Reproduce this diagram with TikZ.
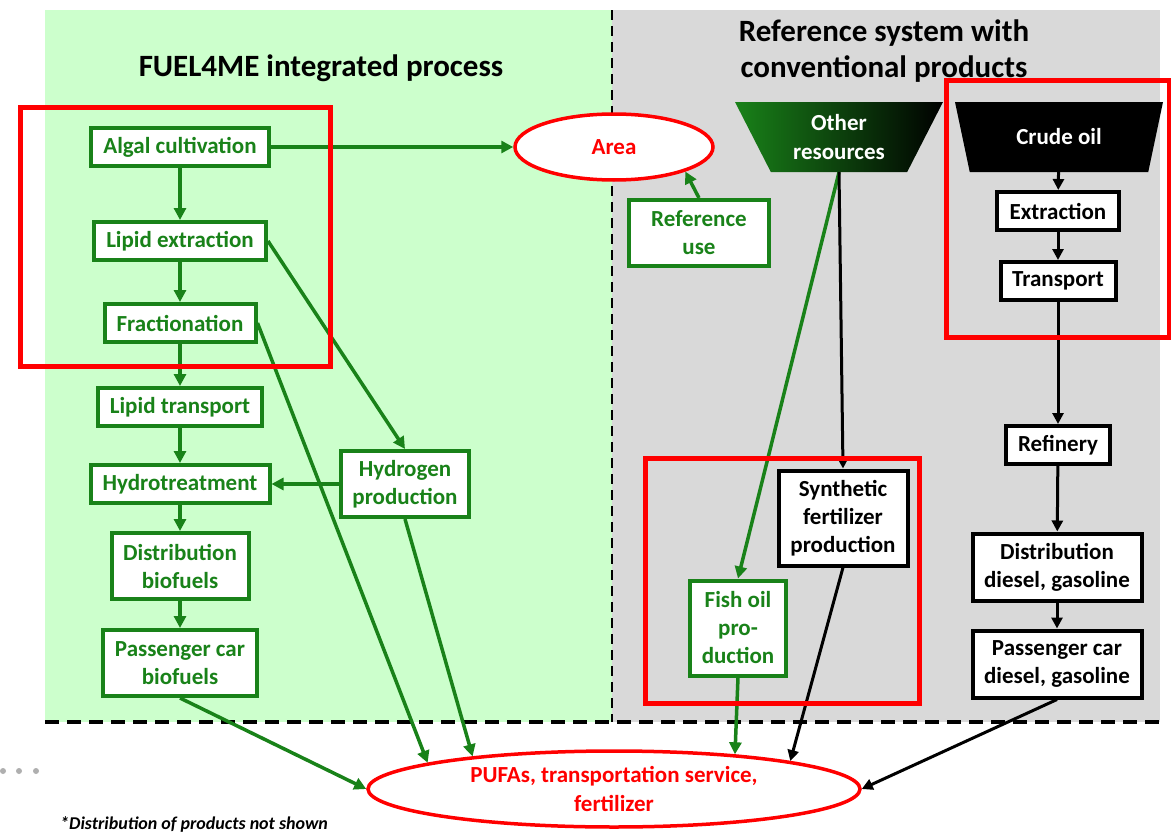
\documentclass[tikz,border=0pt]{standalone}
\usepackage{fontspec}
\setmainfont{Carlito}
\usetikzlibrary{shapes.geometric, arrows.meta, positioning, calc}
\definecolor{flowgreen}{RGB}{25,130,25}
\definecolor{panelgreen}{RGB}{204,255,204}
\definecolor{panelgrey}{RGB}{217,217,217}
\definecolor{markred}{RGB}{255,0,0}
\definecolor{dotgrey}{RGB}{175,175,175}
\tikzset{
  greenbox/.style = {rectangle, draw=flowgreen, line width=4pt, fill=white, text=flowgreen, align=center, inner xsep=5pt, inner ysep=4pt, minimum height=38pt, font=\fontsize{23}{28}\selectfont\bfseries},
  blackbox/.style = {rectangle, draw=black, line width=4pt, fill=white, text=black, align=center, inner xsep=5pt, inner ysep=4pt, minimum height=38pt, font=\fontsize{23}{28}\selectfont\bfseries},
  product/.style = {ellipse, draw=markred, line width=3.5pt, fill=white, text=markred, align=center, inner sep=2pt, font=\fontsize{23}{29}\selectfont\bfseries},
  source/.style = {trapezium, shape border rotate=180, trapezium angle=54, trapezium stretches body, minimum width=208pt, minimum height=70pt, text=white, align=center, inner sep=2pt, font=\fontsize{23}{29}\selectfont\bfseries},
  title/.style = {align=center, text=black, font=\fontsize{31}{36}\selectfont\bfseries},
  greenflow/.style = {-{Triangle[length=12pt, width=12pt]}, line width=3.5pt, draw=flowgreen},
  blackflow/.style = {-{Triangle[length=11pt, width=11pt]}, line width=3pt, draw=black},
  highlight/.style = {draw=markred, line width=5pt},
  border/.style = {draw=black, line width=3.5pt, dash pattern=on 14pt off 8pt}
}
\begin{document}
\begin{tikzpicture}[x=1pt, y=-1pt]
  \useasboundingbox[fill=white] (0,0) rectangle (1171,835);

  % Panels
  \fill[panelgreen] (45,10) rectangle (612,722);
  \fill[panelgrey] (612,10) rectangle (1160,722);
  \draw[border] (45,722) -- (1160,722);
  \draw[border, line width=2.5pt, dash pattern=on 10pt off 6pt] (612,10) -- (612,722);

  % Titles
  \node (fueltitle) [title] at (321,68) {FUEL4ME integrated process};
  \node (reftitle) [title] at (884,51) {Reference system with\\conventional products};

  % Integrated process
  \node (algal) [greenbox, minimum width=178pt] at (180,147) {Algal cultivation};
  \node (lipex) [greenbox, minimum width=172pt] at (180,241) {Lipid extraction};
  \node (frac) [greenbox, minimum width=151pt] at (180,323) {Fractionation};
  \node (liptr) [greenbox, minimum width=164pt] at (180,407) {Lipid transport};
  \node (hydrot) [greenbox, minimum width=179pt] at (180,484) {Hydrotreatment};
  \node (distbio) [greenbox, minimum width=137pt, minimum height=66pt] at (180,566) {Distribution\\biofuels};
  \node (carbio) [greenbox, minimum width=154pt, minimum height=66pt] at (180,663) {Passenger car\\biofuels};
  \node (hydrogen) [greenbox, minimum width=128pt, minimum height=66pt] at (405,484) {Hydrogen\\production};

  % Reference system
  \node (area) [product, minimum width=198pt, minimum height=66pt] at (614,147) {Area};
  \node (refuse) [greenbox, minimum width=140pt, minimum height=66pt] at (699,233) {Reference\\use};
  \node (other) [source, left color=flowgreen, middle color=flowgreen!70!black, right color=black] at (839,137) {Other\\resources};
  \node (crude) [source, fill=black] at (1059,137) {Crude oil};
  \node (extract) [blackbox, minimum width=122pt] at (1058,211) {Extraction};
  \node (transp) [blackbox, minimum width=115pt] at (1058,281) {Transport};
  \node (refin) [blackbox, minimum width=104pt] at (1058,445) {Refinery};
  \node (distfos) [blackbox, minimum width=169pt, minimum height=67pt] at (1057,567) {Distribution\\diesel, gasoline};
  \node (carfos) [blackbox, minimum width=169pt, minimum height=67pt] at (1057,664) {Passenger car\\diesel, gasoline};
  \node (synfert) [blackbox, minimum width=129pt, minimum height=95pt] at (843,518) {Synthetic\\fertilizer\\production};
  \node (fishoil) [greenbox, minimum width=96pt, minimum height=95pt] at (738,628) {Fish oil\\pro-\\duction};

  % Products
  \node (pufa) [product, minimum width=492pt, minimum height=76pt] at (614,789) {PUFAs, transportation service,\\fertilizer};

  % Connecting nodes
  \draw[greenflow] (algal) -- (area);
  \draw[greenflow] (algal) -- (lipex);
  \draw[greenflow] (lipex) -- (frac);
  \draw[greenflow] (frac) -- (liptr);
  \draw[greenflow] (liptr) -- (hydrot);
  \draw[greenflow] (hydrot) -- (distbio);
  \draw[greenflow] (distbio) -- (carbio);
  \draw[greenflow] (lipex.east) -- (hydrogen.north);
  \draw[greenflow] (hydrogen) -- (hydrot);
  \draw[greenflow] (frac.east) -- (pufa.172.8);
  \draw[greenflow] (hydrogen.south) -- (pufa.167.3);
  \draw[greenflow] (carbio.south) -- (pufa.west);
  \draw[greenflow] (refuse.north) -- (area.-19);
  \draw[greenflow] (other.south) -- (fishoil.north);
  \draw[blackflow] (other.south) -- (synfert.north);
  \draw[greenflow] (fishoil.south) -- (pufa.16);
  \draw[blackflow] (synfert.south) -- (pufa.9.5);
  \draw[blackflow] (crude) -- (extract);
  \draw[blackflow] (extract) -- (transp);
  \draw[blackflow] (transp) -- (refin);
  \draw[blackflow] (refin) -- (distfos);
  \draw[blackflow] (distfos) -- (carfos);
  \draw[blackflow] (carfos.south) -- (pufa.east);

  % Highlights
  \draw[highlight] (20,107) rectangle (330,366);
  \draw[highlight] (946,80) rectangle (1169,337);
  \draw[highlight] (645,458) rectangle (919,703);

  % Footnote
  \node (note) [anchor=base west, inner sep=0pt, font=\fontsize{18}{20}\selectfont\bfseries\itshape] at (60,829) {*Distribution of products not shown};
  \foreach \dx in {3,19,36}
    \fill[dotgrey] (\dx,771) circle (3pt);
\end{tikzpicture}
\end{document}
